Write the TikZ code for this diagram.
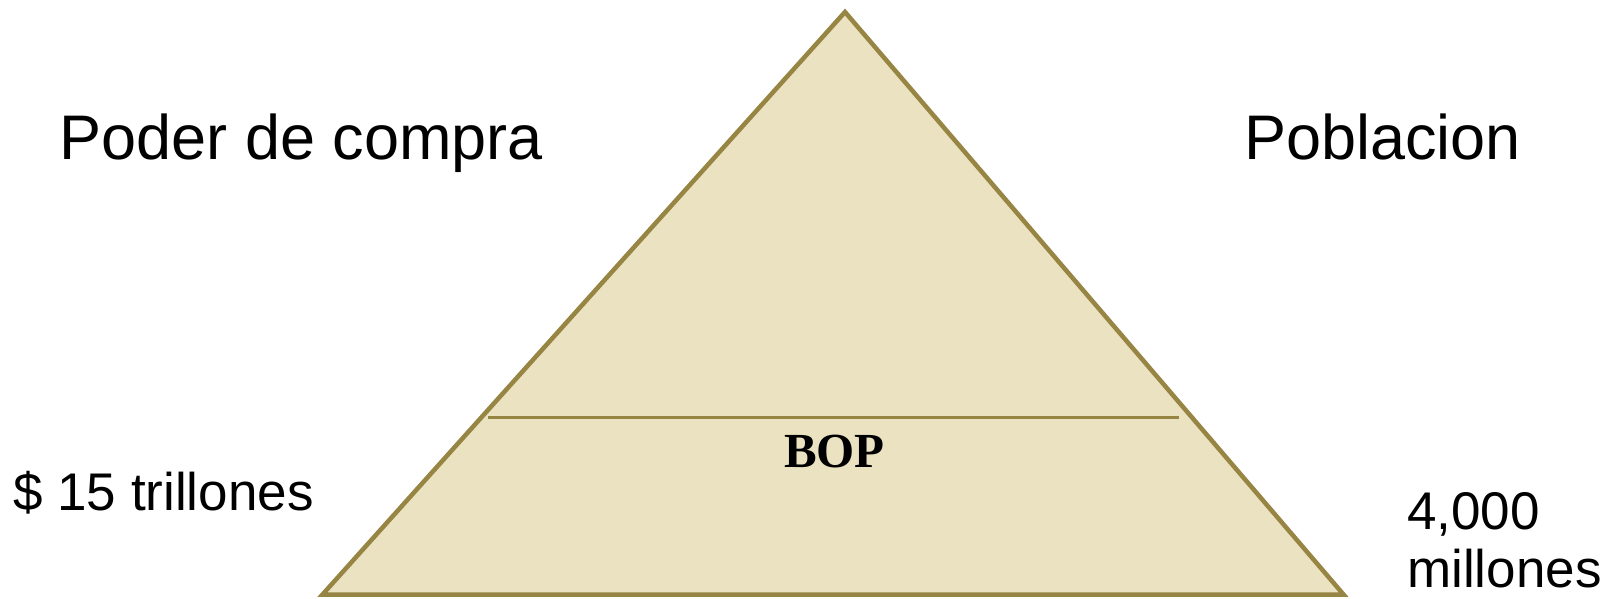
\documentclass[tikz,border=0pt]{standalone}
\usepackage{fontspec}
\setmainfont{Liberation Sans}
\newfontfamily\serifbold{Liberation Serif}
\definecolor{pyrfill}{HTML}{EBE2C1}
\definecolor{pyrline}{HTML}{978543}
\begin{document}
\begin{tikzpicture}[x=1pt,y=-1pt,
  lbl/.style={inner sep=0pt, anchor=base west, text=black},
  big/.style={font=\fontsize{63}{70}\selectfont},
  mid/.style={font=\fontsize{53}{59}\selectfont}]
\useasboundingbox (0,0) rectangle (1611,599);
\coordinate (apex) at (845,12);
\coordinate (bl) at (322.5,594.5);
\coordinate (br) at (1343.5,594.5);
\coordinate (ml) at (488,417);
\coordinate (mr) at (1179,417);
\filldraw[fill=pyrfill, draw=pyrline, line width=4.5pt, line join=miter] (apex) -- (br) -- (bl) -- cycle;
\draw[pyrline, line width=3pt] (ml) -- (mr);
\node[lbl, big] (poder) at (59.5,159) {Poder de compra};
\node[lbl, big] (pobl) at (1244,159) {Poblacion};
\node[lbl, mid] (tril) at (13,510.5) {\$ 15 trillones};
\node[lbl, mid] (cuatro) at (1407,529) {4,000};
\node[lbl, mid] (mill) at (1407,587.5) {millones};
\node[inner sep=0pt, anchor=base, font=\serifbold\bfseries\fontsize{49}{54}\selectfont] (bop) at (834.5,467.5) {BOP};
\end{tikzpicture}
\end{document}
